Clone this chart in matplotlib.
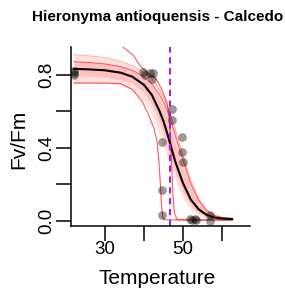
import matplotlib
matplotlib.use('Agg')
import matplotlib.pyplot as plt

plt.rcParams['font.family'] = ['Liberation Sans', 'DejaVu Sans']

title = 'Hieronyma antioquensis - Calcedo'

# measured points
temp = [22, 22, 22, 39.7, 40.2, 41.5, 42.3, 42.0, 47.2, 47.1, 49.7, 49.7, 50.0,
        44.6, 44.5, 44.5, 51.8, 52.2, 53.1, 53.4, 57.0, 57.0]
fvfm = [0.82, 0.81, 0.80, 0.815, 0.80, 0.81, 0.81, 0.78, 0.61, 0.55, 0.46, 0.375, 0.32,
        0.43, 0.17, 0.03, 0.01, 0.005, 0.01, 0.005, 0.03, 0.0]

# fitted curve and bootstrap envelopes
t_grid = [22, 26, 30, 34, 37, 40, 42, 44, 45, 46, 47, 48, 50, 52, 54, 56, 58, 60, 62.6]
fit = [0.833, 0.830, 0.825, 0.812, 0.790, 0.745, 0.690, 0.600, 0.545, 0.475, 0.400,
       0.325, 0.205, 0.115, 0.062, 0.032, 0.017, 0.011, 0.008]
outer_hi = [0.91, 0.905, 0.895, 0.875, 0.85, 0.815, 0.78, 0.72, 0.68, 0.63, 0.57, 0.50,
            0.36, 0.22, 0.12, 0.06, 0.03, 0.018, 0.012]
outer_lo = [0.755, 0.755, 0.752, 0.745, 0.715, 0.655, 0.58, 0.47, 0.41, 0.345, 0.28,
            0.22, 0.12, 0.06, 0.028, 0.012, 0.005, 0.003, 0.002]
inner_hi = [0.875, 0.87, 0.862, 0.848, 0.825, 0.785, 0.74, 0.665, 0.62, 0.56, 0.49, 0.42,
            0.29, 0.175, 0.095, 0.05, 0.026, 0.016, 0.011]
inner_lo = [0.795, 0.792, 0.786, 0.775, 0.752, 0.705, 0.64, 0.535, 0.475, 0.405, 0.335,
            0.265, 0.155, 0.08, 0.04, 0.02, 0.01, 0.006, 0.004]
red_a = [0.872, 0.868, 0.86, 0.845, 0.825, 0.79, 0.75, 0.69, 0.65, 0.60, 0.54, 0.47,
         0.33, 0.2, 0.11, 0.055, 0.027, 0.016, 0.012]

# two outlying bootstrap curves
red_b_t = [22, 30, 34, 37, 39.5, 41, 42.5, 43.3, 43.8, 44.2, 44.5, 44.8, 45.2, 50, 55, 62.6]
red_b = [0.755, 0.755, 0.752, 0.72, 0.655, 0.59, 0.51, 0.44, 0.33, 0.2, 0.08, 0.02,
         0.004, 0.003, 0.003, 0.003]
red_c_t = [32, 34.6, 37.2, 39, 41, 43.3, 44.6, 45.9, 46.4, 46.8, 47.1, 47.4, 47.8, 48.5,
           55, 62.6]
red_c = [1.0, 0.953, 0.909, 0.85, 0.81, 0.772, 0.717, 0.646, 0.57, 0.45, 0.3, 0.15,
         0.04, 0.005, 0.003, 0.003]

t50 = 46.7

fig = plt.figure(figsize=(2.85, 2.94), dpi=100)
ax = fig.add_axes([71/285, 68/294, 179/285, 179/294])

ax.fill_between(t_grid, outer_lo, outer_hi, color='red', alpha=0.12, lw=0)
ax.fill_between(t_grid, inner_lo, inner_hi, color='red', alpha=0.14, lw=0)
ax.plot(t_grid, outer_hi, color='red', alpha=0.3, lw=0.7)
ax.plot(t_grid, red_a, color='red', alpha=0.55, lw=0.8)
ax.plot(red_b_t, red_b, color='red', alpha=0.65, lw=0.8)
ax.plot(red_c_t, red_c, color='red', alpha=0.65, lw=0.8)
ax.plot(t_grid, fit, color='black', lw=1.5)
ax.plot(temp, fvfm, 'o', color='black', alpha=0.4, ms=6.3, mew=0)
ax.axvline(t50, color='#a020f0', lw=1.5, dashes=(3, 2.2))

ax.set_xlim(21.28, 67.18)
ax.set_ylim(-0.030, 0.953)
ax.set_xticks([30, 40, 50, 60])
ax.set_xticklabels(['30', '', '50', ''])
ax.set_yticks([0, 0.2, 0.4, 0.6, 0.8])
ax.set_yticklabels(['0.0', '', '0.4', '', '0.8'], rotation=90, va='center')
ax.tick_params(length=10.5, width=1.1, labelsize=13.5, pad=0.5)
for s in ['top', 'right']:
    ax.spines[s].set_visible(False)
for s in ['left', 'bottom']:
    ax.spines[s].set_linewidth(1.1)

fig.text(157.5/285, 1 - 279/294, 'Temperature', ha='center', va='center', fontsize=15)
fig.text(19/285, 1 - 139/294, 'Fv/Fm', ha='center', va='center', rotation=90, fontsize=15)
fig.text(158/285, 1 - 17/294, title, ha='center', va='center', fontsize=11,
         fontweight='bold')

fig.savefig('out.png', dpi=100)
